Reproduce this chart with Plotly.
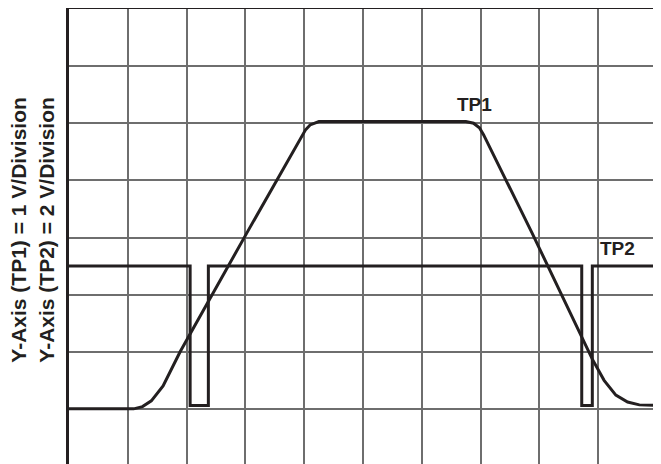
import plotly.graph_objects as go

# Data in screen divisions (x: time divisions, y: vertical divisions)
tp1_x = [0, 1.1, 1.25, 1.4, 1.6, 1.89, 3.03, 3.95, 4.02, 4.1, 4.25,
         6.75, 6.88, 6.98, 7.05, 7.87, 8.74, 8.9, 9.1, 9.3, 9.5, 9.7, 10]
tp1_y = [1.0, 1.0, 1.04, 1.14, 1.4, 2.0, 4.09, 5.75, 5.88, 5.97, 6.03,
         6.03, 6.0, 5.92, 5.8, 4.09, 2.22, 1.87, 1.5, 1.24, 1.12, 1.07, 1.06]

tp2_x = [0, 2.06, 2.06, 2.37, 2.37, 8.72, 8.72, 8.9, 8.9, 10]
tp2_y = [3.5, 3.5, 1.06, 1.06, 3.5, 3.5, 1.06, 1.06, 3.5, 3.5]

labels = ["TP1", "TP2"]
label_x = [6.9, 9.32]
label_y = [6.33, 3.8]

title_lines = ["Y-Axis (TP1) = 1 V/Division", "Y-Axis (TP2) = 2 V/Division"]

ink = "#231f20"
font = "Liberation Sans, Arial, sans-serif"

fig = go.Figure()
fig.add_trace(go.Scatter(x=tp1_x, y=tp1_y, mode="lines",
                         line=dict(color=ink, width=3), hoverinfo="skip"))
fig.add_trace(go.Scatter(x=tp2_x, y=tp2_y, mode="lines",
                         line=dict(color=ink, width=3), hoverinfo="skip"))

for t, x, y in zip(labels, label_x, label_y):
    fig.add_annotation(x=x, y=y, text="<b>%s</b>" % t, showarrow=False,
                       font=dict(family=font, size=19, color=ink))

fig.add_annotation(xref="paper", yref="paper", x=0, y=0.515, xshift=-37,
                   xanchor="center", yanchor="middle", textangle=-90,
                   text="<b>" + "<br>".join(title_lines) + "</b>",
                   showarrow=False,
                   font=dict(family=font, size=21, color=ink))

# page body has an 8px default margin, so the figure is sized to fit inside
fig.update_layout(
    width=653, height=456,
    margin=dict(l=61, r=4, t=1, b=0),
    paper_bgcolor="white", plot_bgcolor="white",
    showlegend=False,
    xaxis=dict(range=[0, 10], dtick=1, tick0=0, showgrid=True,
               gridcolor="#6e6e6e", gridwidth=1.5, zeroline=False,
               showticklabels=False, ticks="", side="top",
               showline=True, linecolor=ink, linewidth=3),
    yaxis=dict(range=[0.035, 8], dtick=1, tick0=0, showgrid=True,
               gridcolor="#6e6e6e", gridwidth=1.5, zeroline=False,
               showticklabels=False, ticks="",
               showline=True, mirror=True, linecolor=ink, linewidth=3),
)

fig.write_html("out.html")
